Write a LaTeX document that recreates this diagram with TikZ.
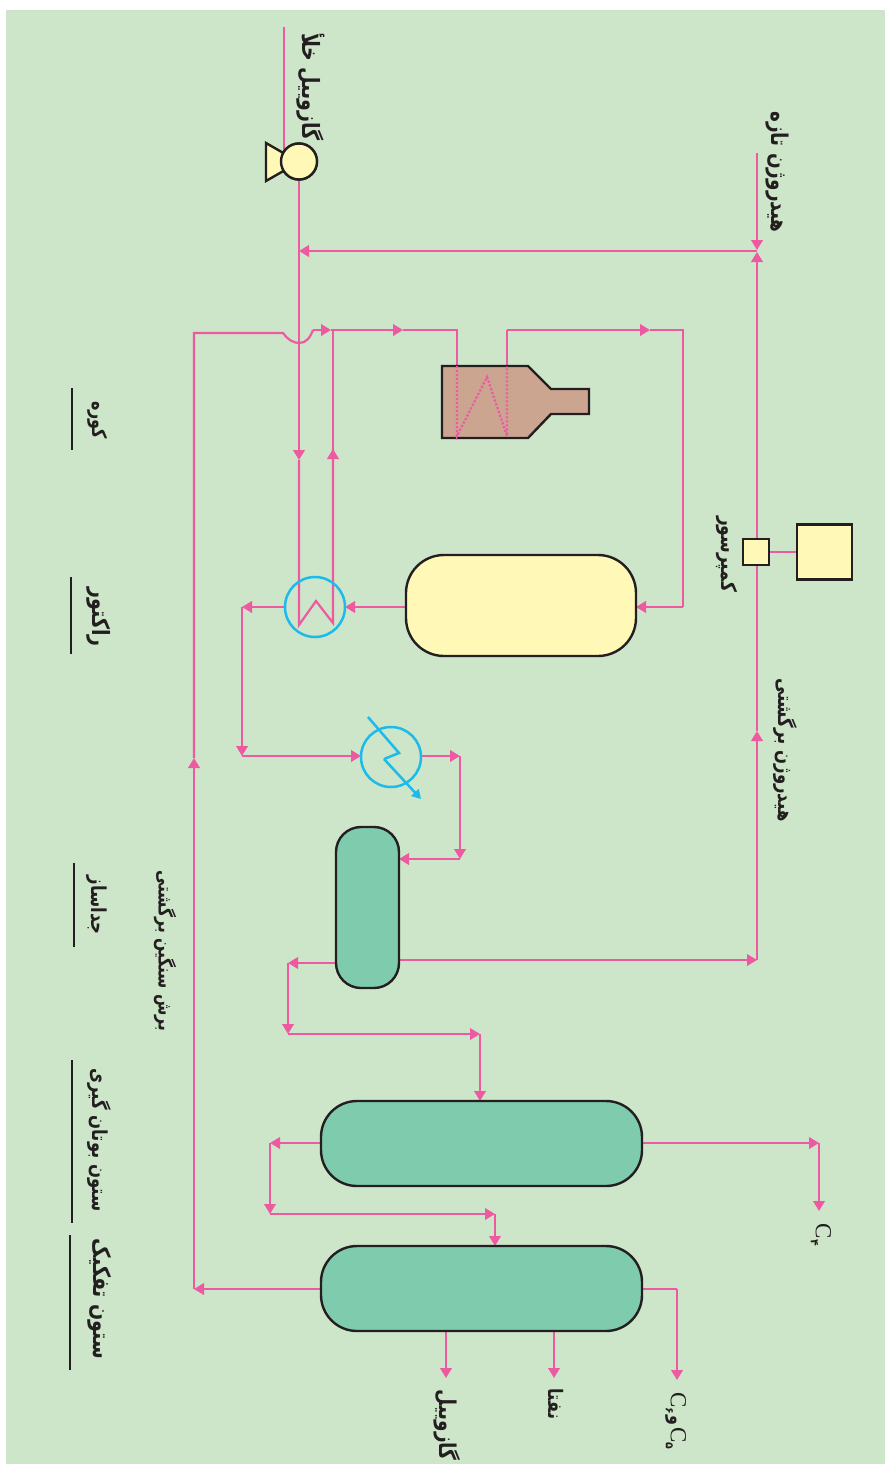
\documentclass[tikz,border=0pt]{standalone}
\usepackage{fontspec}
\usetikzlibrary{arrows.meta,backgrounds,calc}
\TeXXeTstate=1
\newfontfamily\fa[Script=Arabic]{DejaVu Sans}
\newfontfamily\falat{Liberation Serif}
\definecolor{bgc}{HTML}{CDE5C9}
\definecolor{pipec}{HTML}{EE5AA2}
\definecolor{cyanc}{HTML}{1BBBEB}
\definecolor{yellc}{HTML}{FFF8B6}
\definecolor{greenc}{HTML}{7FCBAD}
\definecolor{furnc}{HTML}{CBA58F}
\definecolor{inkc}{HTML}{231F20}
\newcommand{\fatext}[1]{\scalebox{1}[1.25]{\fa\beginR #1\endR}}
\newcommand{\Csub}[1]{{\falat\mdseries\fontsize{23}{23}\selectfont C}\raisebox{-5pt}{\fa\fontsize{11}{11}\selectfont #1}}
\tikzset{
  x=1pt,y=-1pt,
  pipe/.style={draw=pipec,line width=2.2pt},
  flow/.style={pipe,-{Triangle[length=10pt,width=11.5pt]}},
  tube/.style={draw=pipec,line width=2.2pt,dash pattern=on 2.2pt off 1.8pt},
  vessel/.style={draw=inkc,line width=2.4pt,inner sep=0pt,outer sep=0pt},
  hot/.style={vessel,fill=yellc},
  cold/.style={vessel,fill=greenc},
  exch/.style={circle,draw=cyanc,line width=2.5pt,minimum size=60pt,inner sep=0pt,outer sep=0pt},
  lab/.style={rotate=-90,inner sep=0pt,text=inkc,font=\fa\bfseries\fontsize{#1}{#1}\selectfont},
  bar/.style={draw=inkc,line width=2.8pt},
  coolant/.style={draw=cyanc,line width=2.5pt}
}
\begin{document}
\begin{tikzpicture}
\useasboundingbox (0,0) rectangle (887,1464);
% vessels
\node[hot,minimum size=36pt,circle] (pump) at (299,161.5) {};
\node[hot,minimum width=26pt,minimum height=26pt] (comp) at (756,552) {};
\node[hot,minimum width=55pt,minimum height=55pt] (motor) at (824.5,552) {};
\node[hot,rounded corners=38pt,minimum width=230pt,minimum height=101pt] (reactor) at (521,605.5) {};
\node[cold,rounded corners=25pt,minimum width=63pt,minimum height=161pt] (sep) at (367.5,907.5) {};
\node[cold,rounded corners=36pt,minimum width=321pt,minimum height=85pt] (debut) at (481.5,1143.5) {};
\node[cold,rounded corners=36pt,minimum width=321pt,minimum height=85pt] (split) at (481.5,1288.5) {};
\node[exch] (hx) at (315,607) {};
\node[exch] (cooler) at (391,757) {};
% furnace
\draw[vessel,fill=furnc] (442,366) coordinate (fa) -- (528,366) -- (551,389) -- (589,389) -- (589,414) -- (551,414) -- (528,438) -- (442,438) -- cycle;
\coordinate (fin) at (457,366);
\coordinate (fout) at (507,366);
\coordinate (fin2) at (457,436);
\coordinate (fout2) at (507,436);
\coordinate (fpk) at (487,377);
\draw[tube] (fin) -- (fin2) -- (fpk) -- (fout2) -- (fout);
% named junctions
\coordinate (feed) at (284,27);
\coordinate (feedend) at (284,160);
\coordinate (h2top) at (757,153);
\coordinate (h2d) at (757,250);
\coordinate (h2u) at (757,252);
\coordinate (h2j) at (757,251);
\coordinate (h2m) at (757,731);
\coordinate (h2b) at (757,960);
\coordinate (vj) at (299,251);
\coordinate (vdn) at (299,460);
\coordinate (vz) at (299,625);
\coordinate (zk) at (316,601);
\coordinate (uz) at (333,623);
\coordinate (uup) at (333,449);
\coordinate (utop) at (333,330);
\coordinate (a1) at (194,1289);
\coordinate (a2) at (194,758);
\coordinate (a3) at (194,333);
\coordinate (a4) at (283,333);
\coordinate (a5) at (299,343);
\coordinate (a6) at (313,330);
\coordinate (a7) at (331,330);
\coordinate (a8) at (403,330);
\coordinate (a9) at (457,330);
\coordinate (b1) at (507,330);
\coordinate (b2) at (650,330);
\coordinate (b3) at (683,330);
\coordinate (b4) at (683,607);
\coordinate (c1) at (242,607);
\coordinate (c2) at (242,756);
\coordinate (d1) at (460,756);
\coordinate (d2) at (460,859);
\coordinate (e1) at (288,963);
\coordinate (e2) at (288,1034);
\coordinate (e3) at (480,1034);
\coordinate (f1) at (270,1143);
\coordinate (f2) at (270,1214);
\coordinate (f3) at (495,1214);
\coordinate (g1) at (819,1143);
\coordinate (g2) at (819,1211);
\coordinate (k1) at (677,1289);
\coordinate (k2) at (677,1380);
\coordinate (m1) at (446,1378);
\coordinate (m2) at (554,1378);
\begin{scope}[on background layer]
\fill[bgc] (6,10) rectangle (885,1464);
% feed
\draw[pipe] (feed) -- (feedend);
\draw[pipe] (pump.center) -- (vj);
\draw[flow] (vj) -- (vdn);
\draw[pipe] (vdn) -- (vz) -- (zk) -- (uz) -- (uup);
\draw[flow] (uz) -- (uup);
\draw[pipe] (uup) -- (utop);
% hydrogen
\draw[flow] (h2top) -- (h2d);
\draw[flow] (h2m) -- (h2u);
\draw[flow] (h2b) -- (h2m);
\draw[flow] (h2j) -- (vj);
\draw[pipe] (comp.east) -- (motor.west);
% recycle and furnace feed
\draw[flow] (split.west |- a1) -- (a1);
\draw[flow] (a1) -- (a2);
\draw[pipe] (a2) -- (a3) -- (a4) .. controls (288,340) and (294,343) .. (a5) .. controls (306,343) and (310,338) .. (a6);
\draw[flow] (a6) -- (a7);
\draw[flow] (a7) -- (a8);
\draw[pipe] (a8) -- (a9) -- (fin);
\draw[pipe] (fout) -- (b1);
\draw[flow] (b1) -- (b2);
\draw[pipe] (b2) -- (b3) -- (b4);
\draw[flow] (b4) -- (reactor.east |- b4);
\draw[flow] (reactor.west |- b4) -- (hx.east);
\draw[flow] (hx.west) -- (c1);
\draw[flow] (c1) -- (c2);
\draw[flow] (c2) -- (cooler.west |- c2);
\draw[flow] (cooler.east |- d1) -- (d1);
\draw[flow] (d1) -- (d2);
\draw[flow] (d2) -- (sep.east |- d2);
\draw[flow] (sep.east |- h2b) -- (h2b);
\draw[flow] (sep.west |- e1) -- (e1);
\draw[flow] (e1) -- (e2);
\draw[flow] (e2) -- (e3);
\draw[flow] (e3) -- (debut.north -| e3);
\draw[flow] (debut.east |- g1) -- (g1);
\draw[flow] (g1) -- (g2);
\draw[flow] (debut.west |- f1) -- (f1);
\draw[flow] (f1) -- (f2);
\draw[flow] (f2) -- (f3);
\draw[flow] (f3) -- (split.north -| f3);
\draw[pipe] (split.east |- k1) -- (k1);
\draw[flow] (k1) -- (k2);
\draw[flow] (split.south -| m1) -- (m1);
\draw[flow] (split.south -| m2) -- (m2);
\end{scope}
% pump body over the feed line
\path[vessel,fill=yellc,draw=inkc] (266,143) coordinate (tr1) -- (299,162) -- (266,181) coordinate (tr2) -- cycle;
\node[hot,minimum size=36pt,circle] at (pump) {};
% cooler coolant
\coordinate (co1) at (368,717);
\coordinate (co2) at (399,753);
\coordinate (co3) at (384,759);
\coordinate (co4) at (421,799);
\draw[coolant] (co1) -- (co2) -- (co3);
\draw[coolant,-{Triangle[length=9pt,width=10pt]}] (co3) -- (co4);
% bars
\coordinate (k11) at (72,388); \coordinate (k12) at (72,450);
\coordinate (k21) at (71,577); \coordinate (k22) at (71,654);
\coordinate (k31) at (74,863); \coordinate (k32) at (74,947);
\coordinate (k41) at (72,1060); \coordinate (k42) at (72,1223);
\coordinate (k51) at (70,1235); \coordinate (k52) at (70,1370);
\draw[bar] (k11) -- (k12);
\draw[bar] (k21) -- (k22);
\draw[bar] (k31) -- (k32);
\draw[bar] (k41) -- (k42);
\draw[bar] (k51) -- (k52);
% labels
\node[lab=19] (l1) at (311,87) {\fatext{گازوییل خلأ}};
\node[lab=18.5] (l2) at (777,172) {\fatext{هیدروژن تازه}};
\node[lab=17] (l3) at (727,554) {\fatext{کمپرسور}};
\node[lab=16.5] (l4) at (785,750) {\fatext{هیدروژن برگشتی}};
\node[lab=16] (l5) at (98,420) {\fatext{کوره}};
\node[lab=19] (l6) at (99,617) {\fatext{راکتور}};
\node[lab=16.5] (l7) at (97,905) {\fatext{جداساز}};
\node[lab=15.5] (l8) at (165,951) {\fatext{برش سنگین برگشتی}};
\node[lab=16.5] (l9) at (99,1140) {\fatext{ستون بوتان گیری}};
\node[lab=19] (l10) at (100,1299) {\fatext{ستون تفکیک}};
\node[lab=18.5] (l11) at (447,1425) {\fatext{گازوییل}};
\node[lab=16] (l12) at (556,1404) {\fatext{نفتا}};
\node[lab=16] (l13) at (676,1421) {\Csub{۶}\hspace{1pt}\fatext{و}\hspace{2pt}\Csub{۵}};
\node[lab=16] (l14) at (821,1235) {\Csub{۴}};
\end{tikzpicture}
\end{document}
